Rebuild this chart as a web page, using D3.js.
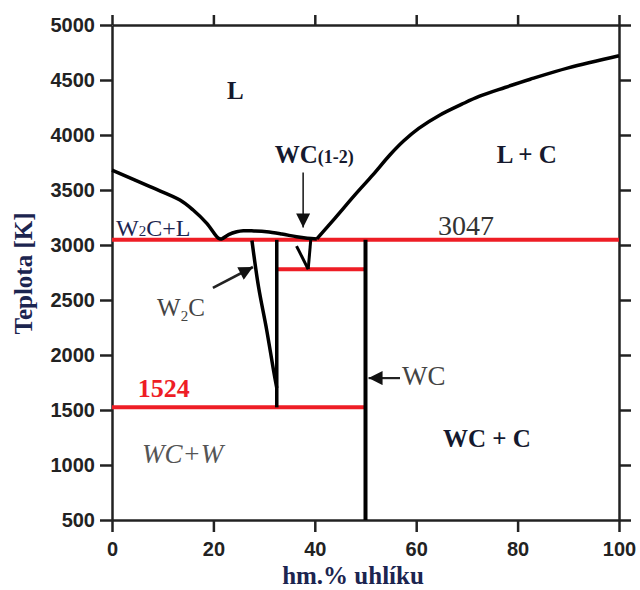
<!DOCTYPE html>
<html>
<head>
<meta charset="utf-8">
<script src="https://cdn.jsdelivr.net/npm/d3@7"></script>
<style>
  html, body { margin: 0; padding: 0; background: #ffffff; }
  svg { display: block; }
</style>
</head>
<body>
<svg id="chart" width="640" height="590"></svg>
<script>
// W–C phase diagram: composition (wt.% C) vs temperature (K)

const xTicks = [0, 20, 40, 60, 80, 100];
const yTicks = [500, 1000, 1500, 2000, 2500, 3000, 3500, 4000, 4500, 5000];

// Liquidus, tungsten side down to the first eutectic and across the W2C hump
const liquidusLeft = [
  [0, 3680], [7.5, 3530], [13.4, 3409], [16.0, 3318], [18.7, 3197],
  [21.0, 3061], [21.6, 3055], [23.0, 3095], [24.6, 3121], [25.9, 3130],
  [28.0, 3128], [30.5, 3121], [33.5, 3100], [36.4, 3075], [38.5, 3062], [40.4, 3055]
];
// Liquidus, carbon side
const liquidusRight = [
  [40.4, 3055], [44.0, 3245], [48.0, 3460], [51.5, 3640], [54.8, 3818],
  [57.5, 3945], [60.5, 4060], [64.7, 4182], [69.0, 4280], [72.4, 4351],
  [77.5, 4432], [82.5, 4507], [90.0, 4610], [100, 4720]
];
// W2C solvus (left boundary of the W2C field)
const w2cSolvus = [[27.6, 3040], [28.9, 2620], [30.5, 2230], [31.9, 1850], [32.5, 1700]];
// W2C boundary on the carbon side
const w2cRight = [[32.5, 3047], [32.5, 1524]];
// WC(1-2) field
const wc12Left = [[36.4, 2990], [38.7, 2780]];
const wc12Right = [[39.2, 3047], [38.7, 2780]];
// Stoichiometric WC line
const wcLine = [[50, 3047], [50, 500]];

// Invariant isotherms: [T, xFrom, xTo]
const isotherms = [
  [3047, 0, 100],
  [2780, 32.5, 50],
  [1524, 0, 50]
];

// Arrows: from -> to, in (wt.% C, K)
const arrows = [
  { from: [37.7, 3660], to: [37.7, 3160], width: 1.6 },
  { from: [19.9, 2610], to: [27.8, 2800], width: 2.6 },
  { from: [56.8, 1790], to: [50.6, 1790], width: 2.2 }
];

const svg = d3.select("#chart");
const margin = { left: 112, right: 21, top: 25, bottom: 70 };
const W = 640, H = 590;

const x = d3.scaleLinear().domain([0, 100]).range([margin.left, W - margin.right]);
const y = d3.scaleLinear().domain([500, 5000]).range([H - margin.bottom, margin.top]);

const SERIF = "'Liberation Serif', 'Times New Roman', serif";
const SANS = "'Liberation Sans', Arial, sans-serif";
const RED = "#ee1d25";

// Axes on all four sides, ticks pointing outwards
function styleAxis(g) {
  g.selectAll("path.domain").attr("stroke", "#222").attr("stroke-width", 2.5);
  g.selectAll(".tick line").attr("stroke", "#222").attr("stroke-width", 2.5);
  g.selectAll(".tick text")
    .attr("fill", "#222")
    .style("font-family", SANS)
    .style("font-weight", "bold")
    .style("font-size", "20px");
}

svg.append("g")
  .attr("transform", `translate(0,${y(500)})`)
  .call(d3.axisBottom(x).tickValues(xTicks).tickFormat(d3.format("d"))
    .tickSize(12).tickPadding(10).tickSizeOuter(0))
  .call(styleAxis);
svg.append("g")
  .attr("transform", `translate(0,${y(5000)})`)
  .call(d3.axisTop(x).tickValues(xTicks).tickSize(10).tickFormat("").tickSizeOuter(0))
  .call(styleAxis);
svg.append("g")
  .attr("transform", `translate(${x(0)},0)`)
  .call(d3.axisLeft(y).tickValues(yTicks).tickFormat(d3.format("d"))
    .tickSize(12).tickPadding(5).tickSizeOuter(0))
  .call(styleAxis);
svg.append("g")
  .attr("transform", `translate(${x(100)},0)`)
  .call(d3.axisRight(y).tickValues(yTicks).tickSize(12).tickFormat("").tickSizeOuter(0))
  .call(styleAxis);

// Axis titles
svg.append("text")
  .attr("transform", `translate(32,${(y(500) + y(5000)) / 2 + 1}) rotate(-90)`)
  .attr("text-anchor", "middle")
  .attr("fill", "#1c2550")
  .style("font-family", SERIF).style("font-weight", "bold").style("font-size", "25px")
  .text("Teplota [K]");
svg.append("text")
  .attr("x", 353).attr("y", 584)
  .attr("text-anchor", "middle")
  .attr("fill", "#1c2550")
  .style("font-family", SERIF).style("font-weight", "bold").style("font-size", "25px")
  .text("hm.% uhlíku");

const line = d3.line().x(d => x(d[0])).y(d => y(d[1]));
const curveLine = d3.line().x(d => x(d[0])).y(d => y(d[1])).curve(d3.curveCatmullRom.alpha(0.5));

// Red isotherms
svg.append("g").selectAll("line")
  .data(isotherms).join("line")
  .attr("x1", d => x(d[1])).attr("x2", d => x(d[2]))
  .attr("y1", d => y(d[0])).attr("y2", d => y(d[0]))
  .attr("stroke", RED).attr("stroke-width", 4);

// Phase boundaries
const bounds = svg.append("g").attr("fill", "none").attr("stroke", "#000")
  .attr("stroke-linejoin", "round").attr("stroke-linecap", "butt");
bounds.append("path").attr("d", curveLine(liquidusLeft)).attr("stroke-width", 3.5);
bounds.append("path").attr("d", curveLine(liquidusRight)).attr("stroke-width", 3.5);
bounds.append("path").attr("d", curveLine(w2cSolvus)).attr("stroke-width", 3.5);
bounds.append("path").attr("d", line(w2cRight)).attr("stroke-width", 3.5);
bounds.append("path").attr("d", line(wc12Left)).attr("stroke-width", 3);
bounds.append("path").attr("d", line(wc12Right)).attr("stroke-width", 3);
bounds.append("path").attr("d", line(wcLine)).attr("stroke-width", 4);

// Arrows with solid heads
svg.append("defs").append("marker")
  .attr("id", "head").attr("viewBox", "0 0 10 10")
  .attr("refX", 10).attr("refY", 5)
  .attr("markerWidth", 18).attr("markerHeight", 14)
  .attr("markerUnits", "userSpaceOnUse")
  .attr("orient", "auto")
  .append("path").attr("d", "M0,0 L10,5 L0,10 Z").attr("fill", "#111");
svg.append("g").selectAll("line")
  .data(arrows).join("line")
  .attr("x1", d => x(d.from[0])).attr("y1", d => y(d.from[1]))
  .attr("x2", d => x(d.to[0])).attr("y2", d => y(d.to[1]))
  .attr("stroke", "#222").attr("stroke-width", d => d.width)
  .attr("marker-end", "url(#head)");

// Region and point labels
function label(xv, yv, opts) {
  return svg.append("text")
    .attr("x", x(xv)).attr("y", y(yv))
    .attr("fill", opts.color || "#111")
    .style("font-family", SERIF)
    .style("font-weight", opts.bold ? "bold" : "normal")
    .style("font-style", opts.italic ? "italic" : "normal")
    .style("font-size", opts.size + "px");
}

label(22.7, 4327, { bold: true, size: 25, color: "#15192e" }).text("L");
label(75.9, 3745, { bold: true, size: 25, color: "#15192e" }).text("L + C");
label(65.3, 1164, { bold: true, size: 25, color: "#15192e" }).text("WC + C");

const wc12 = label(32.1, 3745, { bold: true, size: 25, color: "#15192e" });
wc12.append("tspan").text("WC");
wc12.append("tspan").style("font-size", "18px").text("(1-2)");

const w2cl = label(0.8, 3082, { size: 24, color: "#1c2550" });
w2cl.append("tspan").text("W");
w2cl.append("tspan").style("font-size", "15px").text("2");
w2cl.append("tspan").text("C+L");

label(64.3, 3091, { size: 28, color: "#333" }).text("3047");

const w2c = label(8.9, 2355, { size: 25, color: "#444" });
w2c.append("tspan").text("W");
w2c.append("tspan").attr("dy", 5).style("font-size", "15px").text("2");
w2c.append("tspan").attr("dy", -5).text("C");

label(5.1, 1618, { bold: true, size: 26, color: RED }).text("1524");
label(5.9, 1018, { italic: true, size: 27, color: "#555" }).text("WC+W");
label(57.2, 1727, { size: 27, color: "#444" }).text("WC");
</script>
</body>
</html>
